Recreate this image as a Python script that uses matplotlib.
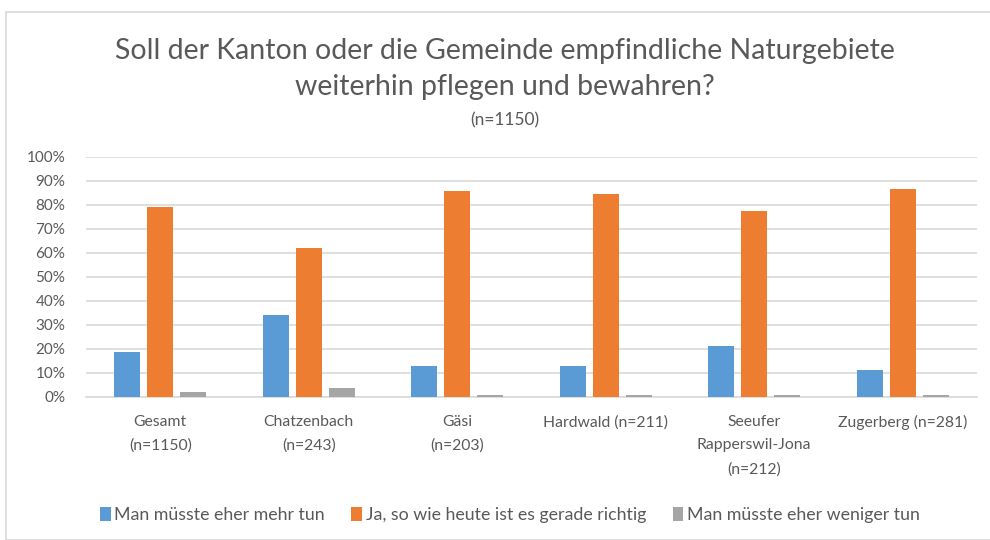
import numpy as np
import matplotlib
matplotlib.use("Agg")
import matplotlib.pyplot as plt
from matplotlib.patches import Rectangle

plt.rcParams['font.family'] = ['Lato', 'DejaVu Sans']

# data
categories = ['Gesamt\n(n=1150)', 'Chatzenbach\n(n=243)', 'Gäsi\n(n=203)',
              'Hardwald (n=211)', 'Seeufer\nRapperswil-Jona\n(n=212)', 'Zugerberg (n=281)']
mehr = [18.6, 34.3, 13.0, 13.0, 21.3, 11.2]
richtig = [79.3, 61.9, 85.7, 84.7, 77.6, 86.7]
weniger = [2.0, 3.8, 1.0, 1.0, 1.0, 1.0]
series_names = ['Man müsste eher mehr tun', 'Ja, so wie heute ist es gerade richtig',
                'Man müsste eher weniger tun']
colors = ['#5b9bd5', '#ed7d31', '#a5a5a5']
txt = '#595959'

fig = plt.figure(figsize=(9.9, 5.4), dpi=100)
ax = fig.add_axes([86/990, 1 - 397/540, 891/990, 240/540])

# chart frame
fig.patches.append(Rectangle((6/990, 0), 1.0, 1 - 12/540, transform=fig.transFigure,
                             fill=False, edgecolor='#d9d9d9', linewidth=1.2))

x = np.arange(len(categories))
w = 0.175
step = 0.222
for i, (vals, name, c) in enumerate(zip([mehr, richtig, weniger], series_names, colors)):
    ax.bar(x + (i - 1) * step, vals, w, color=c, label=name, zorder=3)

ax.set_xlim(-0.5, len(categories) - 0.5)
ax.set_ylim(0, 100)
ax.set_yticks(np.arange(0, 101, 10))
ax.set_yticklabels([f'{v}%' for v in range(0, 101, 10)], color=txt, fontsize=11)
ax.set_xticks(x)
ax.set_xticklabels(categories, color=txt, fontsize=11.3, linespacing=1.85)
ax.tick_params(axis='both', length=0)
ax.tick_params(axis='x', pad=13)
ax.tick_params(axis='y', pad=15)
ax.grid(axis='y', color='#d9d9d9', linewidth=1.2, zorder=0)
for s in ['top', 'right', 'left']:
    ax.spines[s].set_visible(False)
ax.spines['bottom'].set_color('#d9d9d9')
ax.spines['bottom'].set_linewidth(1.2)

fig.text(0.51, 1 - 69/540, 'Soll der Kanton oder die Gemeinde empfindliche Naturgebiete\nweiterhin pflegen und bewahren?',
         ha='center', va='center', fontsize=20.5, color=txt, linespacing=1.45)
fig.text(0.51, 1 - 120/540, '(n=1150)', ha='center', va='center', fontsize=12.5, color=txt)

fig.legend(loc='center', bbox_to_anchor=(0.515, 1 - 515/540), ncol=3, frameon=False,
           fontsize=12.8, labelcolor=txt, handlelength=0.6, handleheight=0.8,
           handletextpad=0.2, columnspacing=1.5)

fig.savefig('out.png', dpi=100)
